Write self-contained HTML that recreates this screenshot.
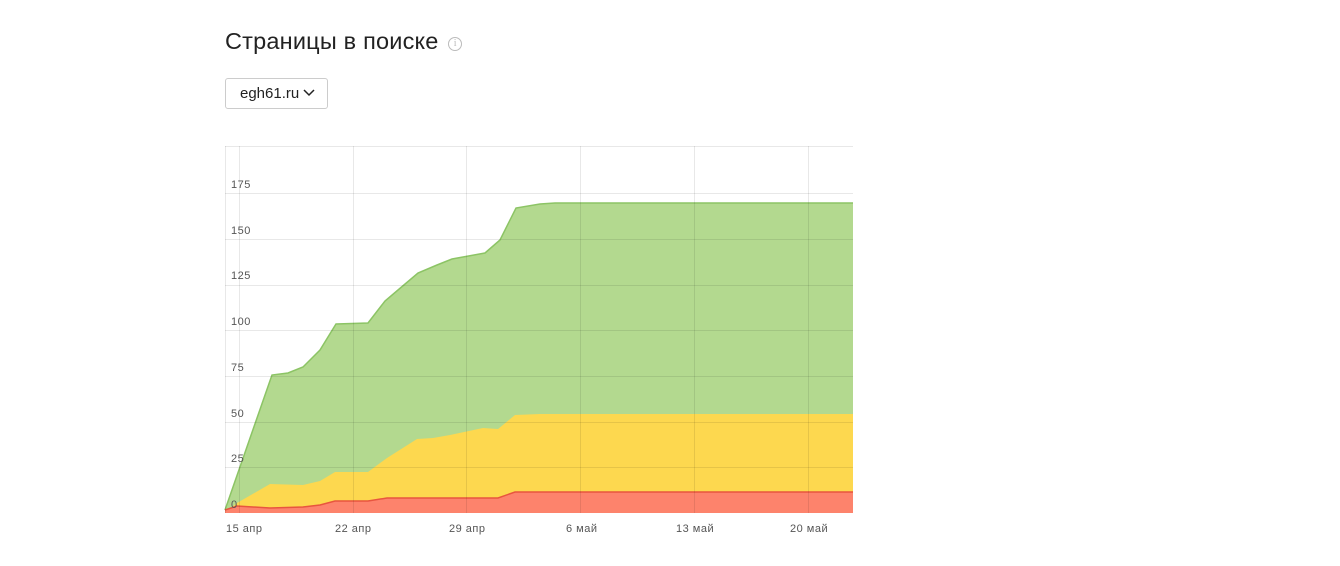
<!DOCTYPE html>
<html><head><meta charset="utf-8"><style>
body{margin:0;background:#fff;width:1340px;height:566px;overflow:hidden;font-family:"Liberation Sans",Arial,sans-serif}
.t{position:absolute;left:225px;top:28px;font-size:23.5px;color:#222;letter-spacing:0.2px}
.i{display:inline-block;width:12px;height:12px;border:1.5px solid #bbb;border-radius:50%;font-size:10px;color:#bbb;text-align:center;line-height:12px;vertical-align:3px;margin-left:3px;font-family:"Liberation Serif",serif}
.b{position:absolute;left:225px;top:78px;width:101px;height:29px;border:1px solid #ccc;border-radius:3px;font-size:15px;color:#222;line-height:29px;box-sizing:content-box}
</style></head><body>
<div class="t">Страницы в поиске <span class="i">i</span></div>
<div class="b"><span style="margin-left:14px">egh61.ru</span><svg width="12" height="8" style="margin-left:4px;vertical-align:1px"><path d="M1 1L6 6L11 1" fill="none" stroke="#222" stroke-width="1.5"/></svg></div>
<svg width="1340" height="566" style="position:absolute;left:0;top:0">
<path d="M225,510 L272,375 288,373 303,367 320,350 336,324 368,323 385,301 398,290 418,273 437,265 452,259 485,253 500,240 516,208 540,204 555,203 853,203 L853,513 225,513Z" fill="#b3d98f"/>
<polyline points="225,510 272,375 288,373 303,367 320,350 336,324 368,323 385,301 398,290 418,273 437,265 452,259 485,253 500,240 516,208 540,204 555,203 853,203" fill="none" stroke="#8cc465" stroke-width="1.5"/>
<path d="M225,513 L237,503 270,484 303,485 320,481 335,472 368,472 387,458 417,439 433,438 450,435 483,428 498,429 515,415 540,414 853,414 L853,513Z" fill="#fdd84f"/>
<path d="M225,510 L237,506 270,508 303,507 320,505 335,501 368,501 387,498 498,498 515,492 853,492 L853,513 225,513Z" fill="#fd836c"/>
<polyline points="225,510 237,506 270,508 303,507 320,505 335,501 368,501 387,498 498,498 515,492 853,492" fill="none" stroke="#e8553f" stroke-width="1.5"/>
<g stroke="rgba(0,0,0,0.09)" stroke-width="1">
<line x1="225" y1="146.5" x2="853" y2="146.5"/>
<line x1="225" y1="193.5" x2="853" y2="193.5"/><line x1="225" y1="239.5" x2="853" y2="239.5"/>
<line x1="225" y1="285.5" x2="853" y2="285.5"/><line x1="225" y1="330.5" x2="853" y2="330.5"/>
<line x1="225" y1="376.5" x2="853" y2="376.5"/><line x1="225" y1="422.5" x2="853" y2="422.5"/>
<line x1="225" y1="467.5" x2="853" y2="467.5"/>
<line x1="225.5" y1="146" x2="225.5" y2="513"/>
<line x1="239.5" y1="146" x2="239.5" y2="513"/><line x1="353.5" y1="146" x2="353.5" y2="513"/>
<line x1="466.5" y1="146" x2="466.5" y2="513"/><line x1="580.5" y1="146" x2="580.5" y2="513"/>
<line x1="694.5" y1="146" x2="694.5" y2="513"/><line x1="808.5" y1="146" x2="808.5" y2="513"/>
</g>
<g font-size="11" fill="#555" font-family="Liberation Sans,sans-serif" letter-spacing="0.5">
<text x="231" y="188">175</text><text x="231" y="234">150</text><text x="231" y="279">125</text>
<text x="231" y="325">100</text><text x="231" y="371">75</text><text x="231" y="417">50</text>
<text x="231" y="462">25</text><text x="231" y="508">0</text>
<text x="226" y="532">15 апр</text><text x="335" y="532">22 апр</text><text x="449" y="532">29 апр</text>
<text x="566" y="532">6 май</text><text x="676" y="532">13 май</text><text x="790" y="532">20 май</text>
</g>
</svg>
</body></html>
